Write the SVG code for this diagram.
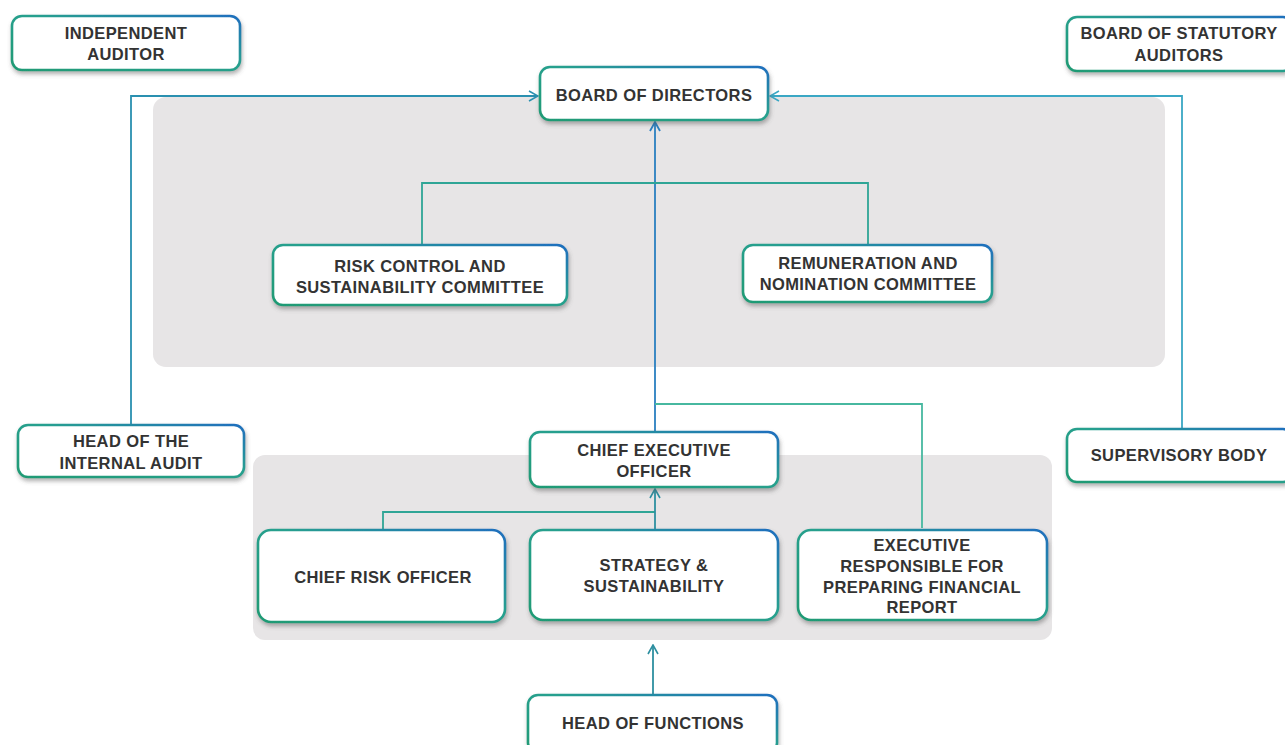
<svg xmlns="http://www.w3.org/2000/svg" width="1285" height="745" viewBox="0 0 1285 745">
<defs>
<linearGradient id="bd" x1="0" y1="1" x2="1" y2="0">
<stop offset="0" stop-color="#1f9a74"/>
<stop offset="0.55" stop-color="#27a08e"/>
<stop offset="1" stop-color="#1f6fbe"/>
</linearGradient>
<filter id="sh" x="-10%" y="-20%" width="120%" height="150%">
<feDropShadow dx="1" dy="3" stdDeviation="2" flood-color="#555" flood-opacity="0.45"/>
</filter>
<marker id="ah" viewBox="0 0 12 12" refX="11" refY="6" markerWidth="12" markerHeight="12" markerUnits="userSpaceOnUse" orient="auto">
<path d="M2,1 L11,6 L2,11" fill="none" stroke="context-stroke" stroke-width="1.6"/>
</marker>
<marker id="ahb" viewBox="0 0 12 12" refX="11" refY="6" markerWidth="12" markerHeight="12" markerUnits="userSpaceOnUse" orient="auto">
<path d="M2,1 L11,6 L2,11" fill="none" stroke="#2a7fc0" stroke-width="1.8"/>
</marker>
<marker id="aht" viewBox="0 0 12 12" refX="11" refY="6" markerWidth="12" markerHeight="12" markerUnits="userSpaceOnUse" orient="auto">
<path d="M2,1 L11,6 L2,11" fill="none" stroke="#2a90b0" stroke-width="1.6"/>
</marker>
<marker id="ahr" viewBox="0 0 12 12" refX="11" refY="6" markerWidth="12" markerHeight="12" markerUnits="userSpaceOnUse" orient="auto">
<path d="M2,1 L11,6 L2,11" fill="none" stroke="#3aa7c4" stroke-width="1.6"/>
</marker>
<marker id="ahg" viewBox="0 0 12 12" refX="11" refY="6" markerWidth="12" markerHeight="12" markerUnits="userSpaceOnUse" orient="auto">
<path d="M2,1 L11,6 L2,11" fill="none" stroke="#2d8fa0" stroke-width="1.6"/>
</marker>
</defs>
<style>
.box{fill:#ffffff;stroke:url(#bd);stroke-width:2.6;filter:url(#sh)}
.panel{fill:#e7e5e6}
text{font-family:"Liberation Sans",Arial,sans-serif;font-weight:bold;font-size:16.5px;fill:#333333;text-anchor:middle;letter-spacing:0.4px}
.c{fill:none;stroke-width:1.8}
</style>
<rect width="1285" height="745" fill="#ffffff"/>
<g id="panels">
<rect class="panel" x="153" y="97" width="1012" height="270" rx="13"/>
<rect class="panel" x="253" y="455" width="799" height="185" rx="12"/>
</g>
<g id="connectors">
<path class="c" d="M131,425 V96 H538" stroke="#2a90b0" marker-end="url(#aht)"/>
<path class="c" d="M1182,429 V96 H770" stroke="#3aa7c4" marker-end="url(#ahr)"/>
<path class="c" d="M655,432 V122" stroke="#2a7fc0" stroke-width="2" marker-end="url(#ahb)"/>
<path class="c" d="M422,245 V183 H868 V245" stroke="#2fa596"/>
<path class="c" d="M655,404 H922 V528" stroke="#47b8a0"/>
<path class="c" d="M383,530 V512 H655" stroke="#2fa596"/>
<path class="c" d="M655,530 V489" stroke="#2d8fa0" marker-end="url(#ahg)"/>
<path class="c" d="M653,694 V645" stroke="#2d8fa0" marker-end="url(#ahg)"/>
</g>
<g id="independent-auditor">
<rect class="box" x="12" y="16" width="228" height="54" rx="10"/>
<text x="126" y="39">INDEPENDENT</text>
<text x="126" y="60">AUDITOR</text>
</g>
<g id="board-of-directors">
<rect class="box" x="540" y="67" width="228" height="53" rx="10"/>
<text x="654" y="101">BOARD OF DIRECTORS</text>
</g>
<g id="board-of-statutory-auditors">
<rect class="box" x="1067" y="17" width="226" height="54" rx="10"/>
<text x="1179" y="39">BOARD OF STATUTORY</text>
<text x="1179" y="61">AUDITORS</text>
</g>
<g id="risk-control-committee">
<rect class="box" x="273" y="245" width="294" height="60" rx="10"/>
<text x="420" y="272">RISK CONTROL AND</text>
<text x="420" y="293">SUSTAINABILITY COMMITTEE</text>
</g>
<g id="remuneration-committee">
<rect class="box" x="743" y="245" width="249" height="57" rx="10"/>
<text x="868" y="269">REMUNERATION AND</text>
<text x="868" y="290">NOMINATION COMMITTEE</text>
</g>
<g id="head-internal-audit">
<rect class="box" x="18" y="425" width="226" height="52" rx="10"/>
<text x="131" y="447">HEAD OF THE</text>
<text x="131" y="469">INTERNAL AUDIT</text>
</g>
<g id="supervisory-body">
<rect class="box" x="1067" y="429" width="226" height="53" rx="10"/>
<text x="1179" y="461">SUPERVISORY BODY</text>
</g>
<g id="ceo">
<rect class="box" x="530" y="432" width="248" height="55" rx="10"/>
<text x="654" y="456">CHIEF EXECUTIVE</text>
<text x="654" y="477">OFFICER</text>
</g>
<g id="cro">
<rect class="box" x="258" y="530" width="247" height="92" rx="13"/>
<text x="383" y="583">CHIEF RISK OFFICER</text>
</g>
<g id="strategy">
<rect class="box" x="530" y="530" width="248" height="90" rx="13"/>
<text x="654" y="571">STRATEGY &amp;</text>
<text x="654" y="592">SUSTAINABILITY</text>
</g>
<g id="executive-financial-report">
<rect class="box" x="798" y="530" width="249" height="90" rx="13"/>
<text x="922" y="551">EXECUTIVE</text>
<text x="922" y="572">RESPONSIBLE FOR</text>
<text x="922" y="593">PREPARING FINANCIAL</text>
<text x="922" y="613">REPORT</text>
</g>
<g id="head-of-functions">
<rect class="box" x="528" y="695" width="249" height="58" rx="10"/>
<text x="653" y="729">HEAD OF FUNCTIONS</text>
</g>
</svg>
